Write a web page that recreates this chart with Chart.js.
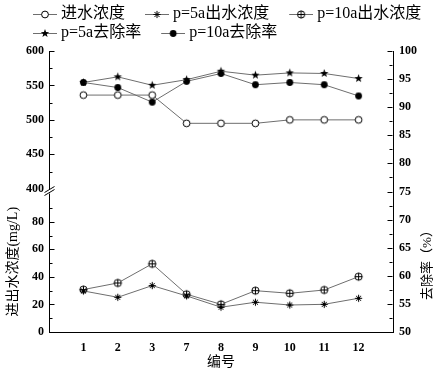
<!DOCTYPE html>
<html>
<head>
<meta charset="utf-8">
<script src="https://cdn.jsdelivr.net/npm/chart.js@4.4.0/dist/chart.umd.min.js"></script>
<style>
    html, body { margin: 0; padding: 0; background: #fff; }
</style>
</head>
<body>
<canvas id="myChart" width="437" height="375"></canvas>
<script>
// Data
var categories = ['1', '2', '3', '7', '8', '9', '10', '11', '12'];
var inflow  = [536, 536, 536, 495, 495, 495, 500, 500, 500];   // mg/L, upper part of left axis
var out5a   = [29.8, 25.2, 33.7, 26.2, 18.0, 21.6, 19.6, 20.1, 24.5];
var out10a  = [30.8, 35.6, 49.5, 27.4, 20.1, 30.0, 28.1, 30.5, 40.2];
var rate5a  = [94.4, 95.4, 93.9, 94.9, 96.4, 95.7, 96.1, 96.0, 95.1];  // %
var rate10a = [94.4, 93.5, 90.9, 94.6, 96.0, 94.0, 94.4, 94.0, 92.0];
var seriesNames = ['进水浓度', 'p=5a出水浓度', 'p=10a出水浓度', 'p=5a去除率', 'p=10a去除率'];
var markerKinds = ['open', 'aster', 'oplus', 'star', 'dot'];

var fontFamily = "'Liberation Serif', 'Noto Sans CJK SC', serif";
var lineColor = '#6e6e6e';
Chart.defaults.font.family = fontFamily;
Chart.defaults.color = '#000';

// Draw one marker on a 2d context
function drawMarker(g, kind, cx, cy) {
    g.save();
    g.strokeStyle = '#000';
    g.fillStyle = '#000';
    g.lineWidth = 1;
    g.beginPath();
    if (kind === 'open' || kind === 'oplus') {
        var r = kind === 'open' ? 3.4 : 3.6;
        g.arc(cx, cy, r, 0, Math.PI * 2);
        g.fillStyle = '#fff';
        g.fill();
        g.stroke();
        if (kind === 'oplus') {
            g.beginPath();
            g.moveTo(cx - r, cy); g.lineTo(cx + r, cy);
            g.moveTo(cx, cy - r); g.lineTo(cx, cy + r);
            g.stroke();
        }
    } else if (kind === 'dot') {
        g.arc(cx, cy, 3.4, 0, Math.PI * 2);
        g.fill();
    } else if (kind === 'aster') {
        for (var a = 0; a < 4; a++) {
            var ang = a * Math.PI / 4;
            g.moveTo(cx - 3.6 * Math.cos(ang), cy - 3.6 * Math.sin(ang));
            g.lineTo(cx + 3.6 * Math.cos(ang), cy + 3.6 * Math.sin(ang));
        }
        g.stroke();
    } else if (kind === 'star') {
        for (var k = 0; k < 10; k++) {
            var rr = k % 2 === 0 ? 4.4 : 1.8;
            var t = -Math.PI / 2 + k * Math.PI / 5;
            if (k === 0) g.moveTo(cx + rr * Math.cos(t), cy + rr * Math.sin(t));
            else g.lineTo(cx + rr * Math.cos(t), cy + rr * Math.sin(t));
        }
        g.closePath();
        g.fill();
    }
    g.restore();
}

function pointIcon(kind) {
    var c = document.createElement('canvas');
    c.width = 13; c.height = 13;
    drawMarker(c.getContext('2d'), kind, 6.5, 6.5);
    return c;
}

// legend icon: short line with the marker in the middle
function legendIcon(kind) {
    var c = document.createElement('canvas');
    c.width = 45; c.height = 16;
    var g = c.getContext('2d');
    g.strokeStyle = lineColor;
    g.lineWidth = 1;
    g.beginPath(); g.moveTo(21, 8.5); g.lineTo(45, 8.5); g.stroke();
    drawMarker(g, kind, 33, 8.5);
    return c;
}

function toPoints(values) {
    return values.map(function(v, i) { return {x: i, y: v}; });
}

var seriesData = [inflow, out5a, out10a, rate5a, rate10a];
var axisIds = ['yTop', 'yBot', 'yBot', 'yR', 'yR'];
var datasets = seriesData.map(function(vals, i) {
    return {
        label: seriesNames[i],
        data: toPoints(vals),
        yAxisID: axisIds[i],
        borderColor: lineColor,
        backgroundColor: lineColor,
        borderWidth: 1,
        pointStyle: pointIcon(markerKinds[i]),
        pointRadius: 4,
        fill: false
    };
});
var legendIcons = markerKinds.map(legendIcon);

var tickFont = {size: 12, family: fontFamily, weight: 'bold'};

// inward ticks, axis break, right title
var axisDeco = {
    id: 'axisDeco',
    beforeDraw: function(chart) {
        chart.legend.left = 13;
    },
    afterDraw: function(chart) {
        var ctx = chart.ctx, area = chart.chartArea;
        ctx.save();
        ctx.strokeStyle = '#000';
        ctx.lineWidth = 1;
        ['yTop', 'yBot', 'yR'].forEach(function(id) {
            var s = chart.scales[id];
            var x0 = id === 'yR' ? Math.round(area.right) - 0.5 : Math.round(area.left) + 0.5;
            var dir = id === 'yR' ? -1 : 1;
            s.ticks.forEach(function(t) {
                if (id === 'yTop' && t.value <= 400) return;
                if (id === 'yBot' && t.value >= 100) return;
                var len = t.label !== '' ? 5 : 3;
                var y = Math.round(s.getPixelForValue(t.value)) + 0.5;
                ctx.beginPath();
                ctx.moveTo(x0, y);
                ctx.lineTo(x0 + dir * len, y);
                ctx.stroke();
            });
        });
        // break mark on the left axis
        var xb = Math.round(area.left) + 0.5;
        var yb = chart.scales.yBot.top;
        ctx.fillStyle = '#fff';
        ctx.fillRect(xb - 1.5, yb - 2, 3, 4);
        ctx.beginPath();
        ctx.moveTo(xb - 5, yb + 1); ctx.lineTo(xb + 5, yb - 5);
        ctx.moveTo(xb - 5, yb + 4); ctx.lineTo(xb + 5, yb - 2);
        ctx.stroke();
        // right axis title, read bottom to top
        ctx.translate(428, 262);
        ctx.rotate(-Math.PI / 2);
        ctx.fillStyle = '#000';
        ctx.font = '13px ' + fontFamily;
        ctx.textAlign = 'center';
        ctx.textBaseline = 'middle';
        ctx.fillText('去除率（%）', 0, 0);
        ctx.restore();
    }
};

var ctx = document.getElementById('myChart').getContext('2d');
var myChart = new Chart(ctx, {
    type: 'line',
    data: { datasets: datasets },
    plugins: [axisDeco],
    options: {
        responsive: false,
        animation: false,
        devicePixelRatio: 1,
        layout: { padding: {top: 3, left: 0, right: 0, bottom: 0} },
        plugins: {
            tooltip: { enabled: false },
            legend: {
                position: 'top',
                align: 'start',
                labels: {
                    usePointStyle: true,
                    pointStyleWidth: 37,
                    padding: 3,
                    color: '#000',
                    font: {size: 16, family: fontFamily},
                    generateLabels: function(chart) {
                        return chart.data.datasets.map(function(ds, i) {
                            return {
                                text: ds.label,
                                pointStyle: legendIcons[i],
                                datasetIndex: i,
                                fontColor: '#000',
                                lineWidth: 0,
                                strokeStyle: 'rgba(0,0,0,0)',
                                fillStyle: 'rgba(0,0,0,0)'
                            };
                        });
                    }
                }
            }
        },
        scales: {
            x: {
                type: 'linear',
                position: 'bottom',
                min: -1,
                max: categories.length,
                grid: { display: false, drawTicks: false },
                border: { display: true, color: '#000', width: 1 },
                ticks: {
                    stepSize: 1,
                    autoSkip: false,
                    maxRotation: 0,
                    padding: 9,
                    font: tickFont,
                    callback: function(v) { return categories[v] || ''; }
                },
                title: {
                    display: true,
                    text: '编号',
                    font: {size: 14, family: fontFamily},
                    padding: {top: 0, bottom: 4}
                },
                afterFit: function(s) { s.height = 43; }
            },
            yBot: {
                type: 'linear',
                position: 'left',
                stack: 'conc',
                stackWeight: 1,
                min: 0,
                max: 102,
                grid: { drawOnChartArea: false, drawTicks: false },
                border: { display: true, color: '#000', width: 1 },
                ticks: {
                    stepSize: 10,
                    includeBounds: false,
                    autoSkip: false,
                    padding: 5,
                    font: tickFont,
                    callback: function(v) { return (v % 20 === 0 && v <= 80) ? v : ''; }
                },
                title: {
                    display: true,
                    text: '进出水浓度(mg/L)',
                    font: {size: 14, family: fontFamily},
                    padding: {top: 5, bottom: 0}
                },
                afterFit: function(s) { s.width = 49; }
            },
            yTop: {
                type: 'linear',
                position: 'left',
                stack: 'conc',
                stackWeight: 1,
                min: 396,
                max: 600,
                grid: { drawOnChartArea: false, drawTicks: false },
                border: { display: true, color: '#000', width: 1 },
                ticks: {
                    stepSize: 25,
                    includeBounds: false,
                    autoSkip: false,
                    padding: 5,
                    font: tickFont,
                    callback: function(v) { return v % 50 === 0 ? v : ''; }
                },
                afterFit: function(s) { s.width = 49; }
            },
            yR: {
                type: 'linear',
                position: 'right',
                min: 50,
                max: 100,
                grid: { drawOnChartArea: false, drawTicks: false },
                border: { display: true, color: '#000', width: 1 },
                ticks: {
                    stepSize: 2.5,
                    autoSkip: false,
                    padding: 6,
                    font: tickFont,
                    callback: function(v) { return v % 5 === 0 ? v : ''; }
                },
                afterFit: function(s) { s.width = 44; }
            }
        }
    }
});
</script>
</body>
</html>
